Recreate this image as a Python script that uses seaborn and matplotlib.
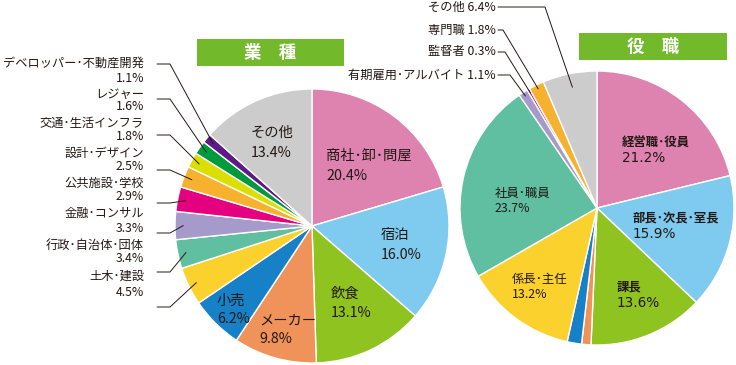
import matplotlib
matplotlib.use("Agg")
import matplotlib.pyplot as plt
import seaborn as sns
import numpy as np

W, H = 736, 365

# ---------------- data ----------------
ind_labels = ["商社・卸・問屋", "宿泊", "飲食", "メーカー", "小売", "土木・建設",
              "行政・自治体・団体", "金融・コンサル", "公共施設・学校", "設計・デザイン",
              "交通・生活インフラ", "レジャー", "デベロッパー・不動産開発", "その他"]
ind_values = [20.4, 16.0, 13.1, 9.8, 6.2, 4.5, 3.4, 3.3, 2.9, 2.5, 1.8, 1.6, 1.1, 13.4]
ind_colors = ["#de82b0", "#7ecbef", "#8fc31f", "#f0935a", "#1681c7", "#fbd12d",
              "#5fbfa0", "#a59ac9", "#e4007f", "#f6b12f", "#dbdf00", "#009a3e",
              "#601986", "#cccccc"]

pos_labels = ["経営職・役員", "部長・次長・室長", "課長", "", "", "係長・主任",
              "社員・職員", "有期雇用・アルバイト", "監督者", "専門職", "その他"]
pos_values = [21.2, 15.9, 13.6, 1.1, 1.7, 13.2, 23.7, 1.1, 0.3, 1.8, 6.4]
pos_colors = ["#de82b0", "#7ecbef", "#8fc31f", "#f0935a", "#1681c7", "#fbd12d",
              "#5fbfa0", "#a59ac9", "#e4007f", "#f6b12f", "#cccccc"]

titles = ["業　種", "役　職"]

# ---------------- style ----------------
sns.set_theme(style="white")
plt.rcParams['font.family'] = ['Noto Sans CJK JP', 'DejaVu Sans']
TXT = "#231815"

fig = plt.figure(figsize=(7.36, 3.65), dpi=100)
ax = fig.add_axes([0, 0, 1, 1])

R = 137
c1 = (312, H - 226)
c2 = (597, H - 208)
wp = dict(edgecolor="white", linewidth=1.0)
w1, _ = ax.pie(ind_values, colors=ind_colors, startangle=90, counterclock=False,
               center=c1, radius=R, wedgeprops=wp)
w2, _ = ax.pie(pos_values, colors=pos_colors, startangle=90, counterclock=False,
               center=c2, radius=R, wedgeprops=wp)
ax.set_xlim(0, W)
ax.set_ylim(0, H)
ax.set_aspect("equal")
ax.axis("off")


def pt(x, y):
    return x, H - y


def wedge_point(w, center, frac):
    ang = np.deg2rad((w.theta1 + w.theta2) / 2)
    return center[0] + frac * R * np.cos(ang), center[1] + frac * R * np.sin(ang)


def fmt(v):
    return f"{v:.1f}%"


def lab(s):
    return s.replace("・", "･")


# ---------------- title boxes ----------------
for (x0, y0, x1, y1), t in zip([(197, 39, 344, 66), (579, 33, 727, 60)], titles):
    ax.add_patch(plt.Rectangle((x0, H - y1), x1 - x0, y1 - y0, facecolor="#72b92c",
                               edgecolor="none", zorder=3))
    ax.text((x0 + x1) / 2, H - (y0 + y1) / 2, t, color="white", fontsize=12.5,
            fontweight="bold", ha="center", va="center", zorder=4)

# ---------------- left pie: inside labels ----------------
inside_left = {  # label index: (x, y line1, y line2)
    0: (326, 156, 176), 1: (381, 235, 255), 2: (331, 294, 313),
    3: (259, 321, 339), 4: (217, 301, 319), 13: (251, 133, 153),
}
for i, (x, y1, y2) in inside_left.items():
    ax.text(*pt(x, y1), lab(ind_labels[i]), fontsize=10.3, color=TXT, ha="left", va="center")
    ax.text(*pt(x, y2), fmt(ind_values[i]), fontsize=10.3, color=TXT, ha="left", va="center")

# ---------------- left pie: outside labels ----------------
outside_left = {  # index: (y line1, y line2, leader y)
    12: (63, 78, 64), 11: (94, 107, 99), 10: (123, 136, 135), 9: (153, 166, 170),
    8: (183, 196, 203), 7: (213, 228, 233), 6: (245, 258, 272), 5: (276, 292, 307),
}
for i, (y1, y2, ly) in outside_left.items():
    ax.text(*pt(144, y1), lab(ind_labels[i]), fontsize=8.8, color=TXT, ha="right", va="center")
    ax.text(*pt(144, y2), fmt(ind_values[i]), fontsize=8.8, color=TXT, ha="right", va="center")
    ex, ey = wedge_point(w1[i], c1, 0.94)
    ax.plot([157, 170, ex], [H - ly, H - ly, ey], color=TXT, lw=0.7, zorder=5)

# ---------------- right pie: inside labels ----------------
inside_right = {  # index: (x, y1, y2, bold)
    0: (622, 143, 158, True), 1: (633, 218, 234, True), 2: (617, 287, 303, True),
    5: (512, 280, 295, False), 6: (495, 193, 209, False),
}
for i, (x, y1, y2, b) in inside_right.items():
    fw = "bold" if b else "normal"
    ax.text(*pt(x, y1), lab(pos_labels[i]), fontsize=8.9, color=TXT, ha="left",
            va="center", fontweight=fw)
    if b:
        ax.text(*pt(x, y2), fmt(pos_values[i]), fontsize=9.8, color=TXT, ha="left",
                va="center", family="DejaVu Sans")
    else:
        ax.text(*pt(x, y2), fmt(pos_values[i]), fontsize=8.9, color=TXT, ha="left",
                va="center")

# ---------------- right pie: outside labels ----------------
outside_right = {  # index: (y, horizontal end x, radius frac)
    10: (7, 545, 0.90), 9: (30, 503, 0.97), 8: (52, 505, 0.97), 7: (75, 510, 0.97),
}
for i, (y, hx, fr) in outside_right.items():
    ax.text(*pt(496, y), f"{lab(pos_labels[i])} {fmt(pos_values[i])}", fontsize=8.8,
            color=TXT, ha="right", va="center")
    ex, ey = wedge_point(w2[i], c2, fr)
    ax.plot([498, hx, ex], [H - y, H - y, ey], color=TXT, lw=0.7, zorder=5)

fig.savefig("out.png", dpi=100, facecolor="white")
